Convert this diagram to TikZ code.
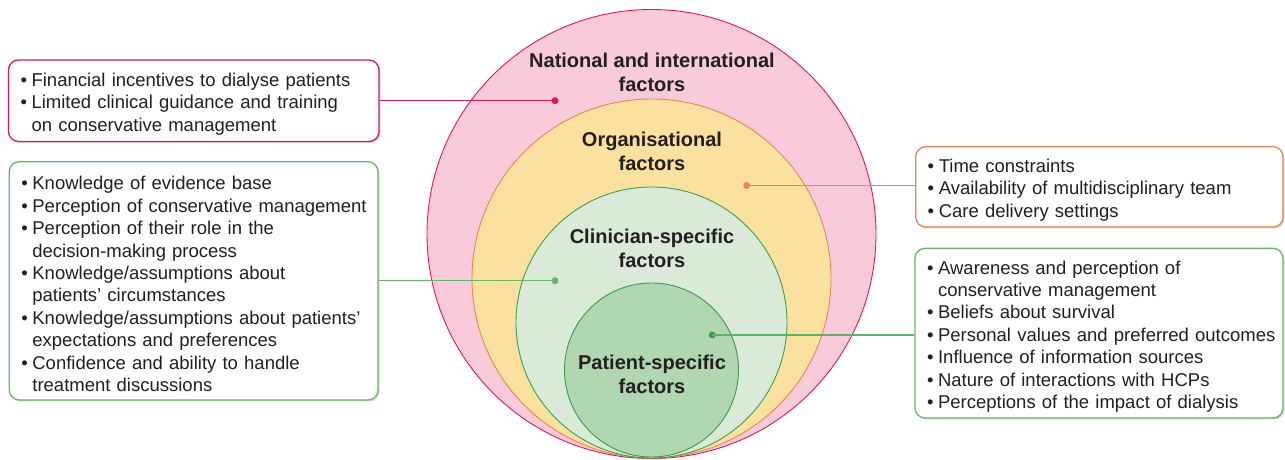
\documentclass[tikz,border=0pt]{standalone}
\usepackage{fontspec}
\setmainfont{Liberation Sans}
\usetikzlibrary{positioning,shadows}

\definecolor{natfill}{HTML}{F8CADA}
\definecolor{natline}{HTML}{E2175B}
\definecolor{orgfill}{HTML}{FBE1A0}
\definecolor{orgline}{HTML}{EF8255}
\definecolor{clinfill}{HTML}{DAEAD9}
\definecolor{clinline}{HTML}{3FA046}
\definecolor{patfill}{HTML}{B0D7B1}
\definecolor{patline}{HTML}{3A9C42}
\definecolor{boxgreen}{HTML}{66B866}
\definecolor{txt}{HTML}{231F20}

% one bulleted line, and one run-on line under it
\newcommand{\bul}[1]{\mbox{\makebox[0.6em][l]{\textbullet}#1}}
\newcommand{\ind}[1]{\mbox{\hspace*{0.6em}#1}}

\tikzset{
  ring/.style={circle, inner sep=0pt, line width=0.9pt},
  ringlabel/.style={align=center, text=txt, font=\fontsize{20}{24}\selectfont\bfseries},
  dot/.style={circle, inner sep=0pt, minimum size=7pt},
  factorbox/.style={rectangle, rounded corners=10pt, line width=1.3pt, fill=white,
    align=left, text=txt, inner xsep=12pt, inner ysep=0pt,
    font=\fontsize{18.5}{22.4}\selectfont,
    execute at begin node={\rule{0pt}{20pt}},
    drop shadow={shadow xshift=1.5pt, shadow yshift=-1.5pt, opacity=0.35, fill=black!45}},
  link/.style={line width=1.2pt}
}

\begin{document}
\begin{tikzpicture}[x=1pt,y=1pt]
\useasboundingbox (0,0) rectangle (1285,460);

% nested circles, all touching at the bottom
\node[ring, draw=natline, fill=natfill, minimum size=449pt] (nat) at (651.5,226) {};
\node[ring, draw=orgline, fill=orgfill, minimum size=359pt] (org) at (651.5,181.5) {};
\node[ring, draw=clinline, fill=clinfill, minimum size=271pt] (clin) at (651.5,137.5) {};
\node[ring, draw=patline, fill=patfill, minimum size=174pt] (pat) at (651.5,90) {};

\node[ringlabel] (natlabel) at (652,388) {National and international\\factors};
\node[ringlabel] (orglabel) at (652,308.5) {Organisational\\factors};
\node[ringlabel] (clinlabel) at (652,211.5) {Clinician-specific\\factors};
\node[ringlabel] (patlabel) at (652,85.5) {Patient-specific\\factors};

% factor boxes
\node[factorbox, draw=natline, text width=346.5pt, minimum width=370.5pt, minimum height=81.5pt, font=\fontsize{18.5}{22.8}\selectfont] (natbox) at (193.75,359.25) {%
\bul{Financial incentives to dialyse patients}\\
\bul{Limited clinical guidance and training}\\
\ind{on conservative management}};

\node[factorbox, draw=boxgreen, text width=344.7pt, minimum width=368.7pt, minimum height=238.3pt] (clinbox) at (193.65,179.15) {%
\bul{Knowledge of evidence base}\\
\bul{Perception of conservative management}\\
\bul{Perception of their role in the}\\
\ind{decision-making process}\\
\bul{Knowledge/assumptions about}\\
\ind{patients’ circumstances}\\
\bul{Knowledge/assumptions about patients’}\\
\ind{expectations and preferences}\\
\bul{Confidence and ability to handle}\\
\ind{treatment discussions}};

\node[factorbox, draw=orgline, text width=343.3pt, minimum width=367.3pt, minimum height=80.3pt] (orgbox) at (1099.35,273.15) {%
\bul{Time constraints}\\
\bul{Availability of multidisciplinary team}\\
\bul{Care delivery settings}};

\node[factorbox, draw=boxgreen, text width=344pt, minimum width=368pt, minimum height=169.7pt] (patbox) at (1099,126.85) {%
\bul{Awareness and perception of}\\
\ind{conservative management}\\
\bul{Beliefs about survival}\\
\bul{Personal values and preferred outcomes}\\
\bul{Influence of information sources}\\
\bul{Nature of interactions with HCPs}\\
\bul{Perceptions of the impact of dialysis}};

% dots and connectors
\node[dot, fill=natline] (natdot) at (555,359.3) {};
\node[dot, fill=orgline] (orgdot) at (746.7,274.5) {};
\node[dot, fill=boxgreen] (clindot) at (555,179.3) {};
\node[dot, fill=patline] (patdot) at (712.3,125) {};

\draw[link, natline] (natdot.center) -- (natbox.east |- natdot.center);
\draw[link, orgline] (orgdot.center) -- (orgbox.west |- orgdot.center);
\draw[link, boxgreen] (clindot.center) -- (clinbox.east |- clindot.center);
\draw[link, patline!80!white] (patdot.center) -- (patbox.west |- patdot.center);

\end{tikzpicture}
\end{document}
